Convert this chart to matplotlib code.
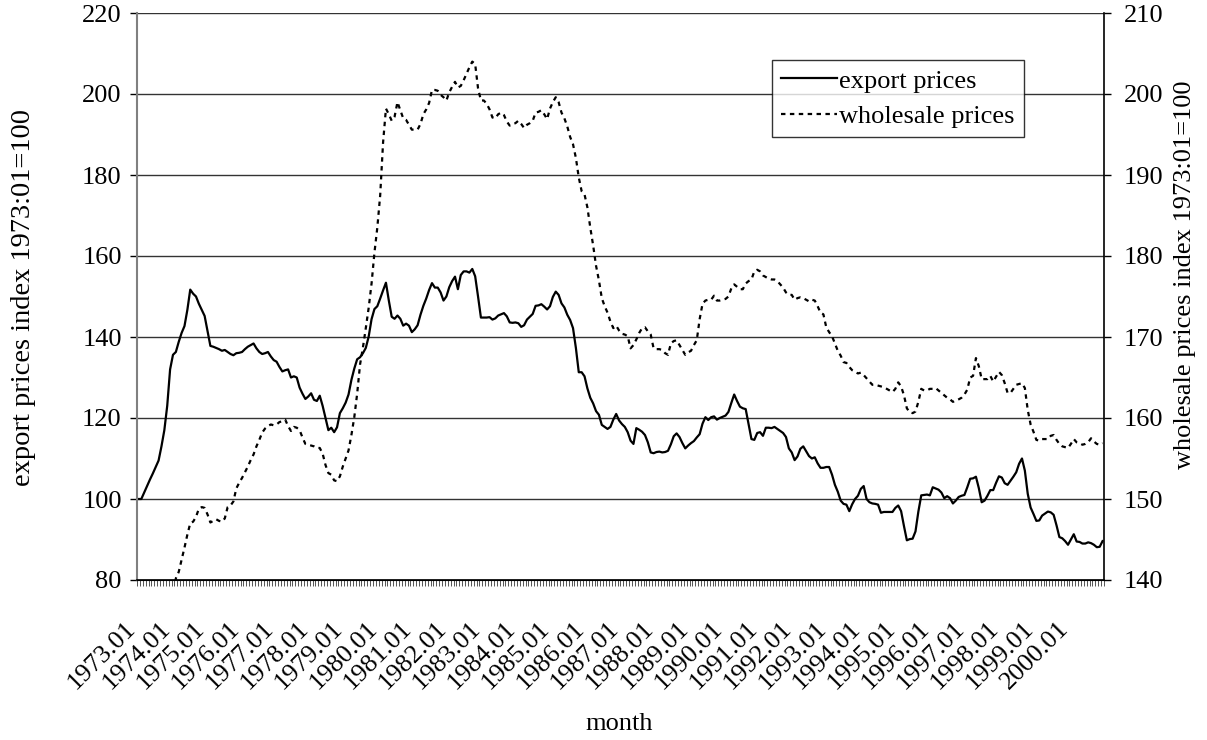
import numpy as np
import matplotlib
matplotlib.use('Agg')
import matplotlib.pyplot as plt
from matplotlib.transforms import ScaledTranslation

plt.rcParams['font.family'] = ['Liberation Serif', 'DejaVu Serif']

# monthly data 1973.01 - 2000.12, one row per year
export_prices = [
    100, 100, 101.6, 103.2, 104.8, 106.3, 107.9, 109.5, 113, 117, 123, 132,              # 1973
    135.6, 136.3, 138.8, 141, 142.7, 146.7, 151.7, 150.7, 150, 148.2, 146.7, 145.2,      # 1974
    141.5, 137.8, 137.6, 137.3, 137, 136.6, 136.8, 136.3, 135.8, 135.5, 136, 136.1,      # 1975
    136.3, 137, 137.6, 138, 138.4, 137.2, 136.3, 135.8, 136, 136.3, 135.2, 134.3,        # 1976
    133.9, 132.6, 131.5, 131.8, 132, 130, 130.3, 130, 127.5, 126, 124.7, 125.3,          # 1977
    126.1, 124.5, 124.2, 125.5, 123, 120, 117, 117.6, 116.5, 117.7, 121.2, 122.4,        # 1978
    123.8, 125.8, 129.4, 132.2, 134.5, 135, 136, 137.3, 140.1, 144.4, 146.9, 147.6,      # 1979
    149.5, 151.5, 153.4, 149, 145, 144.5, 145.3, 144.5, 142.8, 143.3, 142.8, 141.2,      # 1980
    141.9, 142.9, 145.5, 147.7, 149.5, 151.6, 153.3, 152.2, 152.2, 151, 149, 150,        # 1981
    152.3, 153.8, 154.9, 151.8, 155.3, 156.2, 156.2, 155.9, 156.8, 155, 150, 144.8,      # 1982
    144.8, 144.8, 144.9, 144.3, 144.6, 145.3, 145.6, 145.9, 145.1, 143.6, 143.5, 143.6,  # 1983
    143.4, 142.5, 142.9, 144.3, 145, 145.7, 147.7, 147.8, 148.1, 147.5, 146.8, 147.6,    # 1984
    149.9, 151.2, 150.4, 148.3, 147.3, 145.5, 144.2, 142.2, 137.3, 131.3, 131.3, 130.3,  # 1985
    127.3, 125, 123.6, 121.7, 120.8, 118.3, 117.8, 117.3, 117.8, 119.6, 121, 119.4,      # 1986
    118.5, 117.8, 116.5, 114.4, 113.6, 117.5, 117.1, 116.6, 115.8, 114, 111.5, 111.3,    # 1987
    111.6, 111.7, 111.5, 111.6, 111.9, 113.5, 115.5, 116.2, 115.3, 113.8, 112.5, 113.2,  # 1988
    113.8, 114.3, 115.2, 116, 118.6, 120.2, 119.5, 120.2, 120.4, 119.6, 120, 120.3,      # 1989
    120.6, 121.5, 123.7, 125.8, 124.2, 122.8, 122.4, 122.2, 118.5, 114.8, 114.6, 116.3,  # 1990
    116.5, 115.6, 117.6, 117.6, 117.5, 117.8, 117.3, 116.8, 116.3, 115.3, 112.5, 111.5,  # 1991
    109.6, 110.5, 112.4, 113, 111.8, 110.6, 110, 110.3, 108.8, 107.7, 107.7, 107.9,      # 1992
    107.9, 106, 103.5, 101.8, 99.6, 98.8, 98.6, 97, 98.7, 100, 100.8, 102.5,             # 1993
    103.2, 100, 99.2, 98.9, 98.8, 98.6, 96.6, 96.8, 96.8, 96.8, 96.8, 97.8,              # 1994
    98.4, 97, 93.3, 89.8, 90.1, 90.2, 92, 96.9, 100.9, 101, 101.1, 100.9,                # 1995
    102.9, 102.6, 102.3, 101.6, 100.2, 100.7, 100.2, 98.9, 99.6, 100.5, 100.8, 101,      # 1996
    102.9, 105, 105.1, 105.5, 102.7, 99.2, 99.6, 100.8, 102.2, 102.2, 104, 105.6,        # 1997
    105.3, 103.9, 103.5, 104.5, 105.5, 106.6, 108.7, 110, 107, 101.3, 97.9, 96.3,        # 1998
    94.6, 94.7, 95.9, 96.4, 96.9, 96.7, 96.1, 93.5, 90.6, 90.3, 89.6, 88.7,              # 1999
    90, 91.3, 89.5, 89.4, 89, 89, 89.3, 89.1, 88.7, 88.1, 88.2, 89.6,                    # 2000
]

wholesale_prices = [
    100, 101, 103, 105, 107.5, 110, 113, 116, 120, 124, 128.5, 133,                     # 1973
    137.5, 140.2, 141, 142.5, 144, 145.6, 147, 147.2, 147.8, 148.8, 149, 148.9,          # 1974
    148.1, 147.1, 147.3, 147.5, 147.3, 147.2, 147.6, 149, 149.2, 149.7, 151.3, 152,      # 1975
    152.6, 153.3, 154, 154.8, 155.5, 156.5, 157.3, 158.2, 158.7, 159, 159.2, 159.1,      # 1976
    159.2, 159.5, 159.6, 159.8, 159, 158.4, 158.9, 158.8, 158.5, 157.6, 156.8, 156.7,    # 1977
    156.6, 156.5, 156.3, 156.3, 155.6, 154.2, 153.2, 153, 152.3, 152.2, 152.8, 154,      # 1978
    155, 156, 157.9, 160.1, 163, 166.6, 168.7, 171.1, 173.6, 176.6, 180.4, 183.5,        # 1979
    187.5, 194, 198.2, 197.5, 196.7, 197.2, 199, 198, 197, 196.8, 196.2, 195.6,          # 1980
    195.6, 195.6, 196.3, 197.5, 198.1, 198.9, 200.5, 200.5, 200.4, 199.9, 199.6, 199.2,  # 1981
    200.2, 200.9, 201.5, 200.8, 201, 201.7, 202.5, 203.3, 204, 203.7, 200.7, 199.2,      # 1982
    199.2, 198.8, 198.1, 197.1, 197, 197.5, 197.7, 197.4, 196.6, 196.1, 196.3, 196.4,    # 1983
    196.7, 196.3, 195.8, 196.2, 196.4, 196.7, 197.7, 197.8, 198, 197.5, 196.9, 198.2,    # 1984
    199, 199.6, 199, 197.7, 197, 196, 194.7, 193.8, 192.1, 189.7, 188, 187.6,            # 1985
    186, 183.5, 181.3, 178.8, 177, 174.8, 173.8, 173, 171.9, 171.1, 171.4, 170.8,        # 1986
    170.4, 170.3, 170.1, 168.6, 169, 169.7, 170.5, 171.1, 171.2, 170.7, 170.3, 168.6,    # 1987
    168.5, 168.5, 168.4, 168, 167.8, 169.2, 169.5, 169.6, 169, 168.4, 167.8, 168.1,      # 1988
    168.3, 169, 169.6, 172.2, 174.1, 174.5, 174.6, 174.6, 175.1, 174.5, 174.5, 174.6,    # 1989
    174.7, 175, 176, 176.5, 176.2, 175.9, 175.9, 176.6, 176.9, 177.1, 178.1, 178.3,      # 1990
    178.1, 177.6, 177.4, 177.2, 177.1, 177.1, 176.9, 176.5, 176.1, 175.5, 175.2, 175.2,  # 1991
    174.6, 174.8, 174.9, 174.8, 174.6, 174.4, 174.6, 174.5, 173.8, 173, 172.8, 171.2,    # 1992
    170.6, 170.1, 169.2, 168.3, 167.7, 166.9, 166.8, 166.3, 165.9, 165.7, 165.5, 165.6,  # 1993
    165.3, 164.9, 164.5, 164.1, 164.1, 164, 163.9, 163.8, 163.6, 163.4, 163.2, 163.6,    # 1994
    164.4, 163.9, 162.8, 161.2, 160.7, 160.6, 160.8, 162, 163.6, 163.4, 163.4, 163.6,    # 1995
    163.6, 163.7, 163.4, 163.1, 162.8, 162.5, 162.3, 162, 162.1, 162.3, 162.5, 162.9,    # 1996
    163.5, 165, 165.2, 167.4, 166.4, 164.8, 164.8, 164.8, 165.2, 164.5, 165.1, 165.7,    # 1997
    165.3, 164.3, 163.1, 163.1, 163.6, 164.1, 164.2, 164.3, 163.7, 161, 159.2, 158.3,    # 1998
    157.3, 157.2, 157.4, 157.4, 157.4, 157.8, 157.9, 157.3, 156.8, 156.5, 156.4, 156.3,  # 1999
    156.8, 157.4, 157, 156.9, 156.7, 156.8, 157, 157.5, 157.1, 156.8, 156.7, 156.9,      # 2000
]

years = list(range(1973, 2001))
year_labels = [f'{y}.01' for y in years]

x = np.arange(len(export_prices))

fig = plt.figure(figsize=(12.07, 7.40), dpi=100)
ax = fig.add_axes([137/1207, 1 - 580/740, (1104-137)/1207, (580-13)/740])
ax2 = ax.twinx()

l1, = ax.plot(x, export_prices, color='black', lw=1.6, label='export prices')
l2, = ax2.plot(x, wholesale_prices, color='black', lw=1.6, linestyle=(0, (2, 2)),
               label='wholesale prices')

ax.set_xlim(-0.5, len(x) - 0.5)
ax.set_ylim(80, 220)
ax.set_yticks(np.arange(80, 221, 20))
ax2.set_ylim(140, 210)
ax2.set_yticks(np.arange(140, 211, 10))
ax.yaxis.grid(True, color='#333333', lw=1.0)
ax.set_axisbelow(True)

ax.set_xticks(np.arange(0, len(x), 12))
ax.set_xticklabels(year_labels)
ax.set_xticks(np.arange(-0.5, len(x), 1), minor=True)
ax.tick_params(axis='x', which='major', length=0, pad=27, labelsize=19)
ax.tick_params(axis='x', which='minor', length=4.5, width=0.7, color='#555555')
for lab in ax.get_xticklabels():
    lab.set_rotation(45)
    lab.set_ha('right')
    lab.set_va('top')
    lab.set_rotation_mode('anchor')
    lab.set_transform(lab.get_transform() + ScaledTranslation(-14/100, 0, fig.dpi_scale_trans))

ax.tick_params(axis='y', length=5, width=1, labelsize=19, pad=6)
ax2.tick_params(axis='y', length=5, width=1, labelsize=19, pad=9)

for a in (ax, ax2):
    a.spines['top'].set_visible(False)
ax.spines['left'].set_color('#808080')
ax.spines['left'].set_linewidth(1.5)
ax2.spines['left'].set_visible(False)
ax2.spines['right'].set_linewidth(1.2)
ax.spines['right'].set_visible(False)
ax.spines['bottom'].set_linewidth(1.2)

fig.text(24/1207, 1 - 297/740, 'export prices index 1973:01=100', rotation=90,
         ha='center', va='center', fontsize=20.5)
fig.text(1185/1207, 1 - 275/740, 'wholesale prices index 1973:01=100', rotation=90,
         ha='center', va='center', fontsize=19)
fig.text(619/1207, 1 - 724/740, 'month', ha='center', va='center', fontsize=19)

leg = ax2.legend(handles=[l1, l2], loc='upper left',
                 bbox_to_anchor=(772/1207, 1 - 60/740), bbox_transform=fig.transFigure,
                 fontsize=19, frameon=True, fancybox=False, borderpad=0.35,
                 handlelength=2.1, handletextpad=0.1, labelspacing=0.44, borderaxespad=0)
leg.get_frame().set_edgecolor('black')
leg.get_frame().set_linewidth(1.0)

fig.savefig('out.png', dpi=100)
